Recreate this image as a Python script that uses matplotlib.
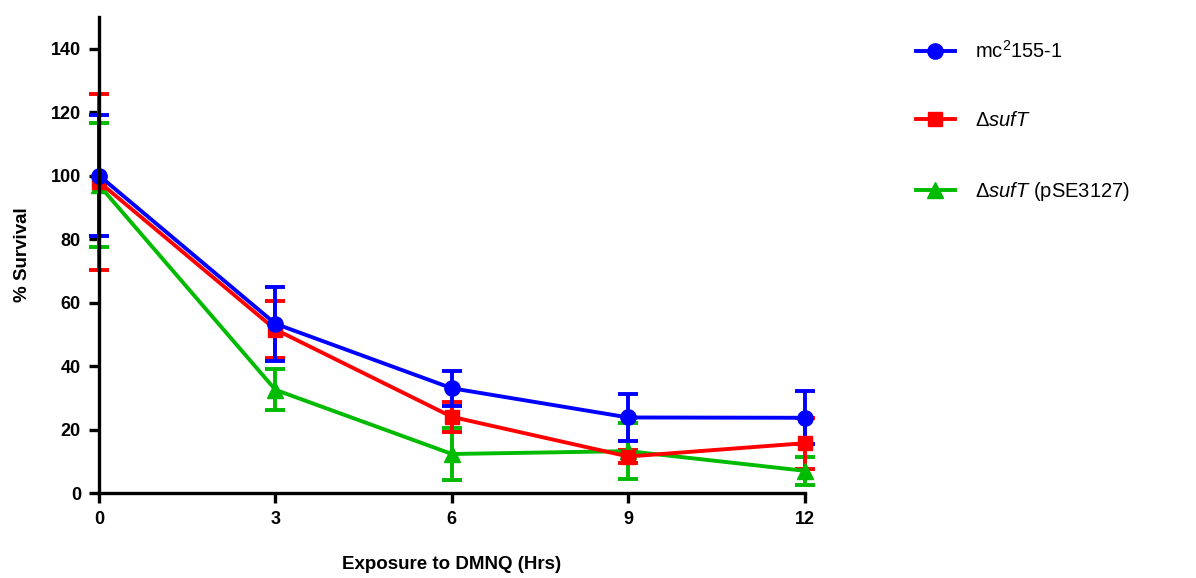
import numpy as np
import matplotlib.pyplot as plt
from matplotlib.lines import Line2D

plt.rcParams['font.family'] = ['Liberation Sans', 'DejaVu Sans']
plt.rcParams['mathtext.fontset'] = 'custom'
plt.rcParams['mathtext.rm'] = 'Liberation Sans'
plt.rcParams['mathtext.it'] = 'Liberation Sans:italic'

hours = [0, 3, 6, 9, 12]

wt_mean = [100.0, 53.3, 33.0, 23.8, 23.7]
wt_err = [19.0, 11.7, 5.5, 7.5, 8.3]

suft_mean = [98.0, 51.5, 24.0, 11.5, 15.7]
suft_err = [27.7, 9.0, 4.7, 2.0, 8.0]

comp_mean = [97.0, 32.5, 12.3, 13.2, 7.0]
comp_err = [19.5, 6.5, 8.3, 8.7, 4.4]

labels = [r'mc$^{2}$155-1', r'$\mathit{\Delta sufT}$',
          r'$\mathit{\Delta sufT}$ (pSE3127)']

fig = plt.figure(figsize=(11.96, 5.78), dpi=100)
ax = fig.add_axes([0.0828, 0.147, 0.59, 0.824])

series = [
    (comp_mean, comp_err, '#00bb00', '^', 11, labels[2]),
    (suft_mean, suft_err, '#ff0000', 's', 10, labels[1]),
    (wt_mean, wt_err, '#0000ff', 'o', 11, labels[0]),
]
handles = {}
for mean, err, col, mk, ms, lab in series:
    ax.errorbar(hours, mean, yerr=err, color=col, marker=mk, markersize=ms,
                linewidth=2.8, elinewidth=2.8, capsize=7, capthick=2.8,
                clip_on=False)
    # legend shows only line + marker
    handles[lab] = Line2D([], [], color=col, marker=mk, markersize=ms,
                          linewidth=2.8)

ax.set_xlim(0, 12)
ax.set_ylim(0, 150)
ax.set_xticks(hours)
ax.set_yticks(np.arange(0, 141, 20))
for s in ['top', 'right']:
    ax.spines[s].set_visible(False)
for s in ['left', 'bottom']:
    ax.spines[s].set_linewidth(2.4)
ax.tick_params(direction='out', length=7, width=2.4, labelsize=13, pad=6)
for t in ax.get_xticklabels() + ax.get_yticklabels():
    t.set_fontweight('bold')

ax.set_xlabel('Exposure to DMNQ (Hrs)', fontsize=13.5, fontweight='bold',
              labelpad=20)
ax.set_ylabel('% Survival', fontsize=13.5, fontweight='bold', labelpad=14)

fig.legend([handles[l] for l in labels], labels,
           loc='upper left', bbox_to_anchor=(0.751, 0.962),
           frameon=False, fontsize=14.5, handlelength=1.9,
           labelspacing=2.45, handletextpad=1.0)

fig.savefig('out.png', dpi=100)
